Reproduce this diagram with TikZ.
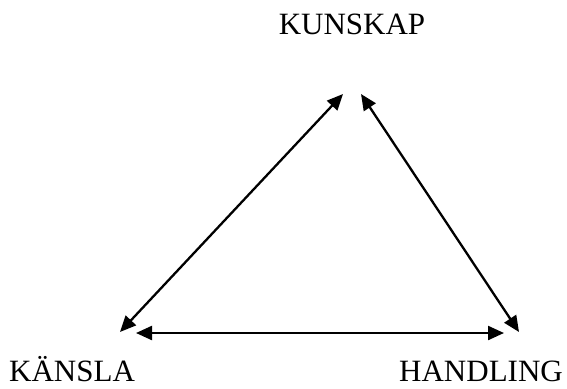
\documentclass[tikz,border=0pt]{standalone}
\usepackage{fontspec}
\setmainfont{Liberation Serif}
\usetikzlibrary{arrows.meta}
\begin{document}
\begin{tikzpicture}[x=1pt, y=-1pt,
    label text/.style={font=\fontsize{31}{37}\selectfont, inner sep=0pt},
    link/.style={line width=2.3pt, {Triangle[length=16pt,width=14pt]}-{Triangle[length=16pt,width=14pt]}}]
    \useasboundingbox (0,0) rectangle (567,388);

    % Tre hörn
    \node[label text, anchor=base] (kunskap) at (352,34) {KUNSKAP};
    \node[label text, anchor=base west] (kansla) at (9,381) {KÄNSLA};
    \node[label text, anchor=base east] (handling) at (563,381) {HANDLING};

    % Pilarnas ändpunkter
    \coordinate (k-l) at (343,94);
    \coordinate (k-r) at (361,94);
    \coordinate (l-k) at (120,332);
    \coordinate (l-h) at (136,333);
    \coordinate (h-l) at (504,333);
    \coordinate (h-k) at (519,332);

    % Pilar
    \draw[link] (k-l) -- (l-k);
    \draw[link] (k-r) -- (h-k);
    \draw[link] (l-h) -- (h-l);
\end{tikzpicture}
\end{document}
